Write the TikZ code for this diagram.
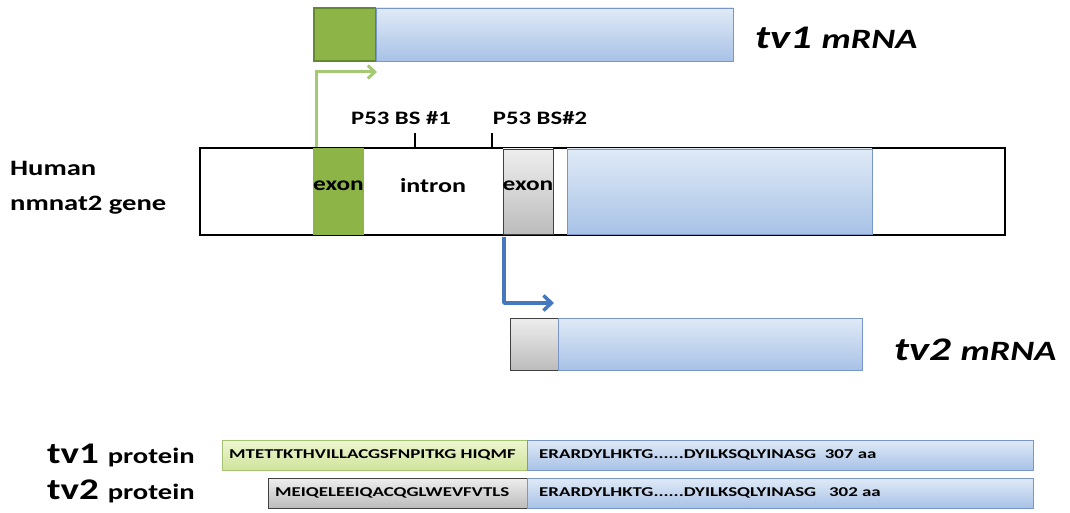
\documentclass[tikz,border=0pt]{standalone}
\usepackage{fontspec}
\setmainfont{Carlito}[FakeStretch=1.3]
\newfontfamily\seqfont{Carlito}[FakeStretch=1.4]
\usetikzlibrary{arrows.meta}
\definecolor{exgreen}{RGB}{140,180,70}
\definecolor{exgreenD}{RGB}{100,135,50}
\definecolor{arrgreen}{RGB}{165,200,115}
\definecolor{arrblue}{RGB}{70,120,190}
\definecolor{bluetop}{RGB}{224,234,247}
\definecolor{bluebot}{RGB}{168,194,230}
\definecolor{blueD}{RGB}{120,150,200}
\definecolor{greytop}{RGB}{238,238,238}
\definecolor{greybot}{RGB}{188,188,188}
\definecolor{ygtop}{RGB}{238,246,210}
\definecolor{ygbot}{RGB}{208,228,155}
\definecolor{ygD}{RGB}{165,195,115}
\tikzset{
  box/.style={anchor=north west, inner sep=0pt, outer sep=0pt},
  bluebox/.style={box, draw=blueD, line width=0.8pt, top color=bluetop, bottom color=bluebot},
  greybox/.style={box, draw=black!75, line width=0.8pt, top color=greytop, bottom color=greybot},
  greenbox/.style={box, draw=exgreenD, line width=1.2pt, fill=exgreen},
  ygbox/.style={box, draw=ygD, line width=0.8pt, top color=ygtop, bottom color=ygbot},
  lbl/.style={font=\bfseries, inner sep=0pt},
  seq/.style={font=\seqfont\bfseries\fontsize{13.5}{13.5}\selectfont, inner sep=0pt, anchor=west},
  garrow/.style={arrgreen, line width=3pt, -{Straight Barb[length=7pt, width=13pt]}},
  barrow/.style={arrblue, line width=3.5pt, line join=round, -{Straight Barb[length=8pt, width=15pt]}},
  tick/.style={black, line width=1.5pt},
}
\begin{document}
\begin{tikzpicture}[x=1pt, y=-1pt]
\useasboundingbox (0,0) rectangle (1070,513);
% tv1 mRNA
\node[greenbox, minimum width=62pt, minimum height=53pt] (g1) at (314,8) {};
\node[bluebox, minimum width=357pt, minimum height=53pt] (b1) at (376,8) {};
\node[lbl, anchor=west] (l1) at (755,38) {\fontsize{33}{33}\selectfont\itshape tv1 \fontsize{28}{28}\selectfont mRNA};
% gene
\node[box, draw=black, line width=2pt, minimum width=805pt, minimum height=87pt] (gene) at (200,148) {};
\draw[black, line width=2pt] (gene.north west) rectangle (gene.south east);
\node[greenbox, minimum width=51pt, minimum height=87pt, draw=none] (ge) at (313,148) {};
\node[lbl, font=\bfseries\fontsize{19.5}{19.5}\selectfont] (gt) at (338.5,186) {exon};
\node[lbl, font=\bfseries\fontsize{20}{20}\selectfont] (it) at (433,186) {intron};
\node[greybox, minimum width=50pt, minimum height=85pt] (xe) at (503,149) {};
\node[lbl, font=\bfseries\fontsize{19.5}{19.5}\selectfont] (xt) at (528,186) {exon};
\node[bluebox, minimum width=305pt, minimum height=85pt] (gb) at (567,149) {};
% binding sites
\node[lbl, font=\bfseries\fontsize{19}{19}\selectfont] (bs1) at (401,118) {P53 BS \#1};
\node[lbl, font=\bfseries\fontsize{19}{19}\selectfont] (bs2) at (540,118) {P53 BS\#2};
\coordinate (t1a) at (415,133);
\coordinate (t1b) at (415,148);
\coordinate (t2a) at (492,133);
\coordinate (t2b) at (492,148);
\draw[tick] (t1a) -- (t1b);
\draw[tick] (t2a) -- (t2b);
% Human label
\node[lbl, anchor=west, align=left, font=\bfseries\fontsize{22}{35}\selectfont] (hl) at (10,188) {Human\\nmnat2 gene};
% arrows
\coordinate (ga0) at (316,147);
\coordinate (ga1) at (316,72);
\coordinate (ga2) at (377,72);
\draw[garrow] (ga0) -- (ga1) -- (ga2);
\coordinate (ba0) at (504,237);
\coordinate (ba1) at (504,303);
\coordinate (ba2) at (554,303);
\draw[barrow] (ba0) -- (ba1) -- (ba2);
% tv2 mRNA
\node[greybox, minimum width=48pt, minimum height=52pt] (x2) at (510,318) {};
\node[bluebox, minimum width=304pt, minimum height=52pt] (b2) at (558,318) {};
\node[lbl, anchor=west] (l2) at (894,350) {\fontsize{33}{33}\selectfont\itshape tv2 \fontsize{28}{28}\selectfont mRNA};
% proteins
\node[ygbox, minimum width=305pt, minimum height=30pt] (p1a) at (222,440) {};
\node[bluebox, minimum width=506pt, minimum height=30pt] (p1b) at (527,440) {};
\node[greybox, minimum width=259pt, minimum height=30pt] (p2a) at (268,478) {};
\node[bluebox, minimum width=506pt, minimum height=30pt] (p2b) at (527,478) {};
\node[seq] (s1a) at (229,455) {MTETTKTHVILLACGSFNPITKG HIQMF};
\node[seq] (s1b) at (539,455) {ERARDYLHKTG......DYILKSQLYINASG\ \ 307 aa};
\node[seq] (s2a) at (275,493) {MEIQELEEIQACQGLWEVFVTLS};
\node[seq] (s2b) at (539,493) {ERARDYLHKTG......DYILKSQLYINASG\ \ \ 302 aa};
\node[lbl, anchor=west] (pl1) at (47,455) {\fontsize{30}{30}\selectfont tv1 \fontsize{22}{22}\selectfont protein};
\node[lbl, anchor=west] (pl2) at (47,491) {\fontsize{30}{30}\selectfont tv2 \fontsize{22}{22}\selectfont protein};
\end{tikzpicture}
\end{document}
